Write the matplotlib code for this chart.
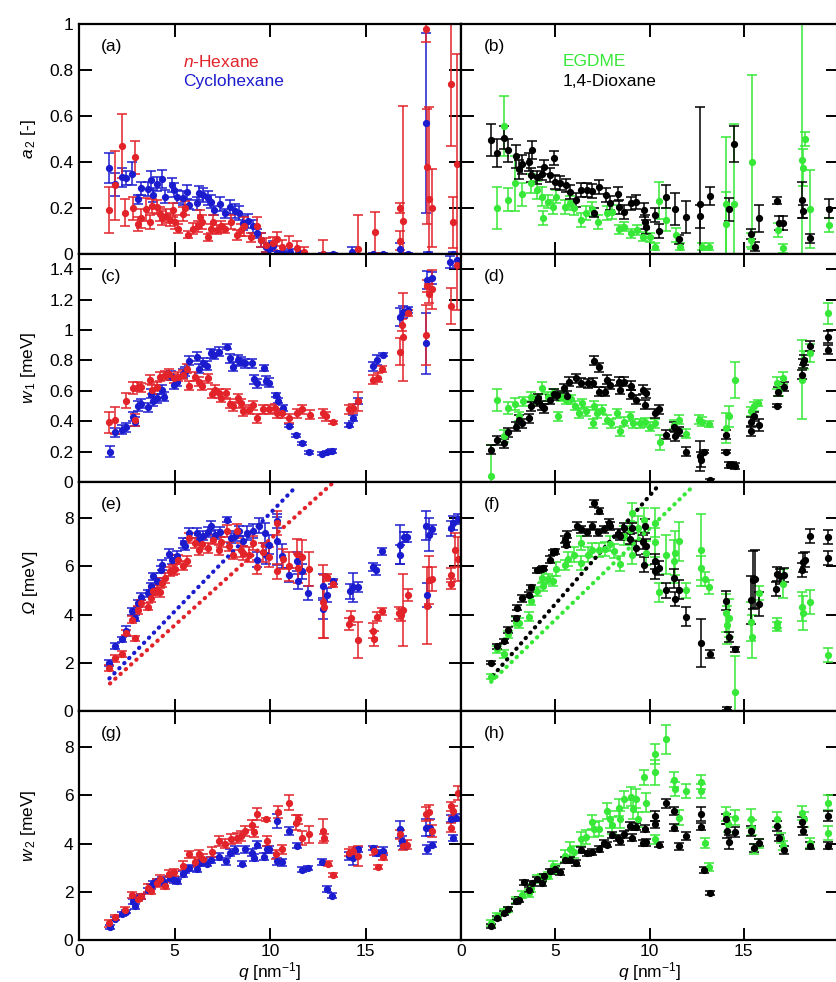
import matplotlib
matplotlib.use("Agg")
import matplotlib.pyplot as plt
import numpy as np

plt.rcParams['font.family'] = ['Liberation Sans', 'DejaVu Sans']
plt.rcParams['mathtext.fontset'] = 'custom'
plt.rcParams['mathtext.rm'] = 'Liberation Sans'
plt.rcParams['mathtext.it'] = 'Liberation Sans:italic'

RED = '#e2232a'
BLUE = '#1c1ccf'
GREEN = '#38e838'
BLACK = '#000000'

# ---------------- panel (a): a2, n-Hexane / Cyclohexane ----------------
q_a_hex = [1.59, 1.87, 2.25, 2.43, 2.85, 2.92, 3.09, 3.26, 3.5, 3.72,
           3.8, 4.07, 4.24, 4.33, 4.54, 4.76, 4.9, 5.0, 5.18, 5.46,
           5.57, 5.69, 5.99, 6.23, 6.34, 6.44, 6.75, 6.93, 7.03, 7.24,
           7.45, 7.66, 7.97, 8.29, 8.5, 8.64, 9.02, 9.3, 9.55, 9.8,
           10.14, 10.38, 10.63, 11.0, 11.4, 11.8, 12.8, 14.6, 15.5, 16.8,
           16.8, 16.96, 18.15, 18.2, 18.3, 18.5, 19.5, 19.6, 19.8]
a2_hex = [0.19, 0.30, 0.47, 0.18, 0.20, 0.42, 0.13, 0.155, 0.195, 0.14,
          0.21, 0.205, 0.175, 0.155, 0.165, 0.15, 0.19, 0.14, 0.11, 0.175,
          0.20, 0.083, 0.11, 0.12, 0.16, 0.14, 0.072, 0.11, 0.14, 0.105,
          0.12, 0.11, 0.14, 0.083, 0.105, 0.12, 0.072, 0.12, 0.06, 0.04,
          0.046, 0.064, 0.032, 0.04, 0.025, 0.01, 0.0, 0.02, 0.094, 0.2,
          0.058, 0.143, 0.98, 0.38, 0.24, 0.2, 0.74, 0.137, 0.39]
a2_hex_err = [0.10, 0.15, 0.14, 0.06, 0.05, 0.07, 0.03, 0.04, 0.05, 0.03,
              0.03, 0.03, 0.03, 0.03, 0.03, 0.03, 0.03, 0.03, 0.02, 0.03,
              0.03, 0.015, 0.025, 0.025, 0.03, 0.03, 0.015, 0.02, 0.03, 0.02,
              0.025, 0.02, 0.03, 0.02, 0.025, 0.04, 0.02, 0.04, 0.03, 0.03,
              0.03, 0.03, 0.03, 0.04, 0.03, 0.02, 0.06, 0.15, 0.09, 0.02,
              0.04, 0.5, 0.06, 0.25, 0.4, 0.17, 0.27, 0.11, 0.48]

q_a_cyc = [1.59, 1.87, 2.25, 2.46, 2.8, 3.09, 3.26, 3.6, 3.75, 3.9,
           4.07, 4.35, 4.49, 4.87, 4.97, 5.11, 5.46, 5.64, 5.74, 6.16,
           6.3, 6.51, 6.75, 6.93, 7.07, 7.38, 7.63, 7.9, 8.18, 8.36,
           8.6, 8.85, 9.13, 9.34, 9.55, 9.8, 9.97, 10.17, 10.38, 10.66,
           11.05, 11.57, 12.8, 13.3, 14.3, 15.4, 15.9, 16.8, 17.2, 18.17,
           18.25, 19.6]
a2_cyc = [0.372, 0.304, 0.333, 0.33, 0.348, 0.238, 0.285, 0.284, 0.32, 0.257,
          0.304, 0.325, 0.25, 0.3, 0.278, 0.25, 0.243, 0.27, 0.214, 0.22,
          0.264, 0.256, 0.243, 0.228, 0.19, 0.217, 0.177, 0.206, 0.186, 0.177,
          0.136, 0.145, 0.12, 0.09, 0.06, 0.03, 0.02, 0.035, 0.005, 0.005,
          0.01, 0.003, 0.0, 0.0, 0.01, 0.0, 0.0, 0.02, 0.0, 0.57,
          0.0, 0.0]
a2_cyc_err = [0.065, 0.05, 0.04, 0.03, 0.05, 0.02, 0.03, 0.03, 0.04, 0.03,
              0.03, 0.04, 0.03, 0.03, 0.03, 0.03, 0.03, 0.03, 0.02, 0.03,
              0.03, 0.03, 0.03, 0.03, 0.02, 0.03, 0.02, 0.03, 0.03, 0.03,
              0.03, 0.03, 0.03, 0.02, 0.03, 0.02, 0.02, 0.02, 0.01, 0.01,
              0.01, 0.005, 0.005, 0.005, 0.02, 0.005, 0.005, 0.03, 0.005, 0.39,
              0.01, 0.01]

# ---------------- panel (b): a2, EGDME / 1,4-Dioxane ----------------
q_b_egd = [1.89, 2.29, 2.47, 2.86, 3.25, 3.73, 4.05, 4.32, 4.37, 4.64,
           4.9, 5.02, 5.5, 5.76, 6.02, 6.37, 6.65, 6.93, 7.27, 7.73,
           8.0, 8.37, 8.63, 9.0, 9.32, 9.67, 10.0, 10.28, 10.5, 10.9,
           11.4, 11.6, 12.8, 13.14, 14.08, 14.08, 14.5, 15.43, 15.4, 16.8,
           17.1, 18.1, 18.15, 18.26, 18.5, 19.5]
a2_egd = [0.2, 0.556, 0.235, 0.307, 0.26, 0.307, 0.278, 0.25, 0.155, 0.228,
          0.206, 0.25, 0.206, 0.223, 0.2, 0.148, 0.18, 0.194, 0.14, 0.18,
          0.184, 0.107, 0.119, 0.09, 0.104, 0.075, 0.072, 0.032, 0.232, 0.148,
          0.083, 0.032, 0.032, 0.032, 0.217, 0.13, 0.217, 0.4, 0.06, 0.104,
          0.025, 0.41, 0.375, 0.5, 0.194, 0.125]
a2_egd_err = [0.09, 0.13, 0.05, 0.12, 0.05, 0.04, 0.04, 0.04, 0.03, 0.03,
              0.03, 0.03, 0.03, 0.03, 0.03, 0.03, 0.03, 0.03, 0.03, 0.03,
              0.03, 0.02, 0.02, 0.02, 0.02, 0.02, 0.02, 0.015, 0.08, 0.05,
              0.03, 0.015, 0.015, 0.015, 0.29, 0.14, 0.35, 0.38, 0.03, 0.03,
              0.02, 0.6, 0.08, 0.03, 0.17, 0.03]

q_b_dio = [1.6, 1.89, 2.27, 2.47, 2.93, 3.07, 3.25, 3.6, 3.77, 3.73,
           4.05, 4.29, 4.39, 4.72, 4.95, 4.98, 5.24, 5.56, 5.76, 6.11,
           6.34, 6.68, 6.93, 7.03, 7.33, 7.67, 7.9, 8.32, 8.37, 8.66,
           9.0, 9.29, 9.7, 9.76, 9.84, 10.28, 10.5, 10.9, 11.34, 11.55,
           11.93, 12.7, 12.7, 13.2, 14.2, 14.5, 15.4, 15.6, 15.83, 16.75,
           16.87, 17.1, 18.1, 18.15, 18.5, 19.5]
a2_dio = [0.496, 0.44, 0.506, 0.452, 0.426, 0.368, 0.39, 0.4, 0.452, 0.343,
          0.333, 0.35, 0.377, 0.343, 0.417, 0.314, 0.307, 0.298, 0.27, 0.235,
          0.278, 0.28, 0.274, 0.18, 0.293, 0.257, 0.223, 0.26, 0.203, 0.184,
          0.22, 0.226, 0.19, 0.14, 0.119, 0.17, 0.101, 0.25, 0.194, 0.064,
          0.16, 0.217, 0.165, 0.252, 0.194, 0.478, 0.087, 0.032, 0.155, 0.232,
          0.136, 0.136, 0.235, 0.185, 0.068, 0.197]
a2_dio_err = [0.07, 0.06, 0.05, 0.05, 0.05, 0.04, 0.04, 0.04, 0.04, 0.03,
              0.03, 0.03, 0.03, 0.03, 0.03, 0.03, 0.03, 0.03, 0.03, 0.03,
              0.03, 0.03, 0.03, 0.02, 0.03, 0.03, 0.03, 0.03, 0.03, 0.03,
              0.03, 0.03, 0.03, 0.03, 0.03, 0.03, 0.03, 0.05, 0.07, 0.02,
              0.07, 0.42, 0.05, 0.04, 0.05, 0.08, 0.02, 0.02, 0.06, 0.015,
              0.03, 0.03, 0.08, 0.03, 0.02, 0.04]

# ---------------- panel (c): w1, n-Hexane / Cyclohexane ----------------
q_c_hex = [1.59, 1.88, 2.46, 2.81, 2.92, 3.09, 3.26, 3.72, 3.8, 4.07,
           4.24, 4.49, 4.73, 4.97, 5.18, 5.46, 5.64, 5.78, 6.06, 6.27,
           6.44, 6.75, 6.96, 7.14, 7.31, 7.42, 7.7, 7.9, 8.08, 8.32,
           8.46, 8.6, 8.88, 9.09, 9.3, 9.65, 9.93, 10.28, 10.38, 10.63,
           11.0, 11.4, 11.66, 12.1, 12.76, 12.93, 13.3, 14.15, 14.36, 14.6,
           15.4, 15.65, 15.86, 16.8, 16.9, 16.96, 17.2, 18.15, 18.2, 18.3,
           18.5, 19.5, 19.8]
w1_hex = [0.392, 0.405, 0.536, 0.617, 0.41, 0.628, 0.624, 0.672, 0.606, 0.628,
          0.694, 0.702, 0.711, 0.683, 0.694, 0.705, 0.746, 0.632, 0.694, 0.661,
          0.632, 0.683, 0.58, 0.606, 0.584, 0.554, 0.584, 0.514, 0.497, 0.551,
          0.519, 0.464, 0.475, 0.505, 0.42, 0.479, 0.479, 0.486, 0.453, 0.453,
          0.42, 0.453, 0.479, 0.444, 0.453, 0.431, 0.392, 0.479, 0.484, 0.53,
          0.672, 0.687, 0.742, 0.858, 1.033, 0.956, 1.114, 0.967, 1.289, 1.24,
          1.267, 1.157, 1.43]
w1_hex_err = [0.07, 0.09, 0.05, 0.04, 0.04, 0.03, 0.03, 0.03, 0.03, 0.03,
              0.03, 0.03, 0.03, 0.03, 0.03, 0.03, 0.03, 0.03, 0.03, 0.03,
              0.03, 0.03, 0.03, 0.03, 0.03, 0.03, 0.03, 0.03, 0.03, 0.03,
              0.03, 0.03, 0.03, 0.03, 0.03, 0.03, 0.03, 0.03, 0.03, 0.03,
              0.03, 0.03, 0.03, 0.03, 0.03, 0.03, 0.01, 0.03, 0.03, 0.06,
              0.03, 0.03, 0.02, 0.09, 0.04, 0.29, 0.02, 0.2, 0.04, 0.06,
              0.13, 0.12, 0.3]

q_c_cyc = [1.62, 1.87, 2.25, 2.46, 2.85, 2.92, 3.09, 3.26, 3.6, 3.75,
           3.9, 4.07, 4.35, 4.45, 4.8, 4.97, 5.11, 5.46, 5.57, 5.74,
           6.16, 6.3, 6.51, 6.72, 6.93, 7.07, 7.31, 7.73, 7.9, 8.08,
           8.32, 8.46, 8.71, 9.06, 9.16, 9.34, 9.69, 9.8, 9.97, 10.31,
           10.42, 10.66, 11.01, 11.36, 11.67, 12.06, 12.72, 12.97, 13.25, 14.15,
           14.33, 14.6, 15.37, 15.6, 15.9, 16.8, 16.98, 17.2, 18.17, 18.2,
           18.48, 19.4, 19.8]
w1_cyc = [0.2, 0.326, 0.343, 0.36, 0.43, 0.398, 0.5, 0.514, 0.492, 0.58,
          0.53, 0.55, 0.606, 0.562, 0.698, 0.639, 0.661, 0.711, 0.726, 0.799,
          0.825, 0.746, 0.786, 0.764, 0.847, 0.836, 0.858, 0.89, 0.814, 0.759,
          0.803, 0.792, 0.781, 0.781, 0.676, 0.65, 0.748, 0.667, 0.654, 0.571,
          0.536, 0.484, 0.37, 0.309, 0.256, 0.195, 0.186, 0.195, 0.204, 0.376,
          0.42, 0.53, 0.76, 0.803, 0.836, 1.088, 1.12, 1.13, 0.912, 1.33,
          1.34, 1.45, 1.46]
w1_cyc_err = [0.035, 0.03, 0.03, 0.03, 0.03, 0.03, 0.03, 0.03, 0.03, 0.03,
              0.03, 0.03, 0.03, 0.03, 0.03, 0.03, 0.03, 0.03, 0.03, 0.03,
              0.03, 0.03, 0.03, 0.03, 0.03, 0.03, 0.03, 0.015, 0.03, 0.03,
              0.03, 0.03, 0.03, 0.03, 0.03, 0.03, 0.02, 0.03, 0.03, 0.015,
              0.015, 0.02, 0.01, 0.01, 0.01, 0.01, 0.01, 0.01, 0.01, 0.015,
              0.02, 0.02, 0.03, 0.03, 0.01, 0.06, 0.04, 0.02, 0.2, 0.06,
              0.04, 0.04, 0.04]

# ---------------- panel (d): w1, EGDME / 1,4-Dioxane ----------------
q_d_egd = [1.6, 1.89, 2.29, 2.47, 2.86, 3.07, 3.28, 3.73, 4.05, 4.32,
           4.64, 4.9, 5.16, 5.33, 5.59, 5.82, 6.06, 6.28, 6.41, 6.63,
           6.98, 7.03, 7.24, 7.5, 7.76, 7.97, 8.28, 8.46, 8.63, 8.98,
           9.15, 9.5, 9.76, 10.02, 10.28, 10.54, 11.32, 11.55, 11.93, 12.62,
           12.8, 13.18, 14.04, 14.22, 14.53, 15.4, 15.54, 15.78, 16.75, 16.87,
           17.1, 18.1, 18.18, 18.5, 19.48]
w1_egd = [0.042, 0.54, 0.3, 0.486, 0.512, 0.431, 0.53, 0.562, 0.545, 0.617,
          0.562, 0.584, 0.431, 0.562, 0.54, 0.545, 0.501, 0.453, 0.519, 0.464,
          0.387, 0.501, 0.453, 0.475, 0.409, 0.387, 0.453, 0.333, 0.398, 0.431,
          0.387, 0.387, 0.392, 0.365, 0.387, 0.26, 0.376, 0.409, 0.317, 0.409,
          0.398, 0.383, 0.354, 0.431, 0.672, 0.464, 0.497, 0.519, 0.65, 0.606,
          0.683, 0.672, 0.803, 0.847, 1.11]
w1_egd_err = [0.2, 0.07, 0.04, 0.04, 0.04, 0.03, 0.03, 0.03, 0.03, 0.04,
              0.03, 0.03, 0.03, 0.03, 0.03, 0.03, 0.03, 0.03, 0.03, 0.03,
              0.03, 0.03, 0.03, 0.03, 0.03, 0.03, 0.03, 0.03, 0.03, 0.03,
              0.03, 0.03, 0.03, 0.03, 0.03, 0.05, 0.03, 0.03, 0.03, 0.03,
              0.03, 0.02, 0.1, 0.07, 0.12, 0.03, 0.03, 0.02, 0.04, 0.04,
              0.04, 0.26, 0.06, 0.06, 0.07]

q_d_dio = [1.6, 1.89, 2.27, 2.47, 2.93, 3.07, 3.25, 3.6, 3.73, 4.05,
           4.11, 4.29, 4.39, 4.74, 4.95, 5.07, 5.47, 5.64, 5.71, 6.11,
           6.34, 6.72, 6.98, 7.03, 7.34, 7.33, 7.64, 7.76, 7.93, 8.37,
           8.42, 8.66, 9.01, 9.01, 9.29, 9.67, 9.76, 9.84, 10.28, 10.5,
           10.9, 11.32, 11.37, 11.55, 11.93, 12.7, 12.72, 12.88, 13.2, 14.04,
           14.04, 14.22, 14.4, 14.53, 15.36, 15.4, 15.57, 15.83, 16.75, 16.82,
           17.14, 18.1, 18.15, 18.2, 18.5, 19.48, 19.48]
w1_dio = [0.212, 0.274, 0.256, 0.326, 0.365, 0.409, 0.387, 0.42, 0.497, 0.53,
          0.551, 0.501, 0.486, 0.54, 0.58, 0.571, 0.617, 0.567, 0.661, 0.683,
          0.654, 0.65, 0.654, 0.799, 0.755, 0.595, 0.595, 0.672, 0.639, 0.661,
          0.606, 0.661, 0.632, 0.573, 0.54, 0.606, 0.508, 0.584, 0.453, 0.479,
          0.311, 0.365, 0.3, 0.333, 0.2, 0.173, 0.147, 0.2, 0.011, 0.311,
          0.2, 0.114, 0.114, 0.107, 0.398, 0.333, 0.431, 0.376, 0.501, 0.595,
          0.628, 0.705, 0.781, 0.803, 0.895, 0.956, 0.87]
w1_dio_err = [0.03, 0.03, 0.03, 0.03, 0.03, 0.03, 0.03, 0.03, 0.03, 0.03,
              0.03, 0.03, 0.03, 0.03, 0.03, 0.03, 0.03, 0.03, 0.03, 0.03,
              0.03, 0.03, 0.03, 0.03, 0.03, 0.03, 0.03, 0.03, 0.03, 0.03,
              0.03, 0.03, 0.03, 0.03, 0.03, 0.03, 0.03, 0.03, 0.03, 0.03,
              0.03, 0.03, 0.03, 0.03, 0.03, 0.1, 0.05, 0.01, 0.01, 0.03,
              0.01, 0.02, 0.02, 0.02, 0.03, 0.03, 0.03, 0.04, 0.01, 0.03,
              0.03, 0.03, 0.03, 0.03, 0.03, 0.04, 0.03]

# ---------------- panel (e): Omega, n-Hexane / Cyclohexane ----------------
q_e_cyc = [1.59, 1.87, 2.25, 2.46, 2.8, 2.92, 3.09, 3.26, 3.6, 3.75,
           3.9, 4.07, 4.31, 4.35, 4.73, 4.87, 5.11, 5.46, 5.57, 5.74,
           6.16, 6.3, 6.51, 6.75, 6.93, 7.1, 7.38, 7.73, 7.94, 8.18,
           8.36, 8.6, 8.81, 9.13, 9.3, 9.44, 9.72, 9.8, 9.97, 10.35,
           10.38, 10.63, 11.0, 11.4, 11.45, 11.66, 12.0, 12.79, 12.79, 13.0,
           13.3, 14.19, 14.33, 14.6, 15.37, 15.55, 15.86, 16.8, 16.8, 17.0,
           17.15, 18.17, 18.3, 18.2, 18.5, 19.5, 19.6, 19.86]
om_cyc = [2.0, 2.69, 2.97, 3.33, 4.13, 3.85, 4.47, 4.75, 4.89, 5.17,
          5.58, 5.38, 5.86, 6.07, 6.53, 6.28, 6.44, 6.97, 6.86, 7.39,
          7.39, 7.11, 7.28, 7.42, 7.67, 7.32, 7.42, 7.94, 7.18, 7.25,
          7.46, 7.04, 7.39, 7.46, 6.28, 7.69, 7.39, 6.49, 6.9, 7.88,
          7.04, 6.42, 5.65, 6.21, 5.38, 5.79, 4.89, 5.17, 4.22, 4.82,
          5.38, 4.96, 5.14, 5.14, 5.97, 5.86, 6.63, 6.9, 6.49, 7.22,
          7.22, 7.69, 7.32, 4.82, 7.53, 7.58, 7.8, 7.97]
om_cyc_err = [0.12, 0.12, 0.1, 0.2, 0.15, 0.12, 0.15, 0.15, 0.15, 0.15,
              0.15, 0.15, 0.15, 0.2, 0.2, 0.2, 0.2, 0.2, 0.2, 0.2,
              0.2, 0.2, 0.2, 0.2, 0.2, 0.2, 0.2, 0.1, 0.2, 0.2,
              0.2, 0.2, 0.3, 0.3, 0.3, 0.3, 0.4, 0.4, 0.4, 0.3,
              1.0, 0.5, 0.3, 0.4, 0.3, 0.3, 0.3, 0.5, 0.4, 0.3,
              0.1, 0.3, 0.6, 0.2, 0.15, 0.2, 0.15, 0.8, 0.4, 0.2,
              0.2, 0.6, 0.7, 0.5, 0.2, 0.3, 0.3, 0.2]

q_e_hex = [1.59, 1.88, 2.25, 2.46, 2.92, 2.8, 3.09, 3.26, 3.6, 3.75,
           3.9, 4.07, 4.24, 4.35, 4.49, 4.76, 4.9, 5.0, 5.18, 5.46,
           5.64, 5.74, 6.06, 6.27, 6.44, 6.75, 7.03, 7.31, 7.42, 7.73,
           7.87, 8.05, 8.29, 8.46, 8.6, 8.88, 9.13, 9.3, 9.65, 9.97,
           10.38, 10.38, 10.66, 11.0, 11.4, 11.48, 11.66, 12.02, 12.79, 12.83,
           13.0, 13.3, 14.15, 14.22, 14.6, 15.4, 15.44, 15.62, 15.86, 16.73,
           16.84, 16.98, 17.2, 18.2, 18.3, 18.5, 19.5, 19.5, 19.67, 19.86]
om_hex = [1.8, 2.18, 2.36, 3.25, 3.01, 3.78, 4.19, 4.47, 4.33, 4.68,
          4.96, 5.03, 4.92, 5.33, 5.51, 5.79, 5.86, 5.89, 6.28, 6.03,
          6.21, 7.18, 6.97, 6.67, 6.94, 6.76, 7.11, 6.69, 7.0, 7.46,
          6.83, 6.49, 7.46, 6.69, 6.56, 6.49, 6.97, 5.97, 6.58, 6.39,
          7.81, 5.79, 6.31, 6.0, 6.53, 5.93, 6.39, 5.89, 4.54, 4.33,
          5.54, 5.28, 3.61, 3.85, 2.94, 3.33, 3.0, 3.92, 4.13, 4.06,
          3.99, 4.19, 4.82, 4.36, 5.44, 5.47, 5.65, 5.28, 6.69, 6.31]
om_hex_err = [0.12, 0.15, 0.12, 0.1, 0.1, 0.15, 0.15, 0.15, 0.15, 0.15,
              0.15, 0.2, 0.2, 0.2, 0.2, 0.2, 0.2, 0.2, 0.2, 0.2,
              0.2, 0.2, 0.2, 0.2, 0.2, 0.2, 0.2, 0.2, 0.2, 0.25,
              0.2, 0.2, 0.3, 0.3, 0.3, 0.3, 0.3, 0.3, 0.4, 0.4,
              0.5, 0.3, 0.4, 0.6, 0.6, 0.6, 0.7, 0.7, 1.5, 1.3,
              0.15, 0.15, 0.25, 0.3, 0.75, 0.3, 0.3, 0.2, 0.15, 0.25,
              0.25, 1.5, 0.25, 1.6, 1.0, 0.5, 0.3, 0.2, 0.7, 0.9]

# linear (sound velocity) reference lines: end points
q_e_line_cyc = [1.59, 11.22]
om_e_line_cyc = [1.35, 9.19]
q_e_line_hex = [1.62, 13.3]
om_e_line_hex = [1.14, 9.47]

# ---------------- panel (f): Omega, EGDME / 1,4-Dioxane ----------------
q_f_dio = [1.6, 1.89, 2.27, 2.47, 2.93, 2.99, 3.25, 3.6, 3.73, 4.05,
           4.29, 4.37, 4.72, 4.9, 4.98, 5.5, 5.56, 5.64, 6.16, 6.34,
           6.68, 6.93, 7.07, 7.34, 7.29, 7.59, 7.85, 7.9, 8.32, 8.42,
           8.63, 8.98, 9.06, 9.29, 9.64, 9.7, 9.76, 9.84, 10.28, 10.28,
           10.5, 10.9, 11.32, 11.37, 11.55, 11.93, 12.71, 13.21, 14.04, 14.1,
           14.22, 14.53, 15.36, 15.49, 15.61, 15.83, 16.7, 16.79, 16.93, 17.14,
           18.09, 18.14, 18.26, 18.49, 19.48, 19.48]
om_dio = [2.0, 2.69, 2.9, 3.36, 3.85, 4.29, 4.68, 4.82, 5.13, 5.83,
          5.89, 5.93, 6.28, 6.58, 6.63, 7.11, 6.9, 7.32, 7.67, 7.53,
          7.42, 7.67, 8.61, 8.29, 7.42, 7.53, 7.81, 7.67, 7.36, 7.25,
          7.6, 7.14, 7.6, 6.76, 7.0, 6.07, 7.67, 6.83, 6.21, 5.79,
          5.93, 5.0, 5.51, 4.64, 5.03, 3.92, 2.83, 2.36, 4.58, 0.1,
          3.06, 2.56, 4.61, 5.44, 5.47, 4.44, 5.06, 5.69, 5.58, 5.65,
          5.86, 6.17, 6.28, 7.25, 7.22, 6.35]
om_dio_err = [0.06, 0.1, 0.08, 0.12, 0.1, 0.1, 0.15, 0.1, 0.1, 0.12,
              0.1, 0.1, 0.15, 0.1, 0.1, 0.15, 0.1, 0.15, 0.15, 0.15,
              0.15, 0.15, 0.15, 0.12, 0.15, 0.15, 0.15, 0.15, 0.2, 0.15,
              0.2, 0.2, 0.2, 0.3, 0.3, 0.3, 0.3, 0.3, 0.3, 0.3,
              0.3, 0.3, 0.4, 0.3, 0.4, 0.4, 1.0, 0.15, 0.4, 0.05,
              0.2, 0.1, 1.0, 1.2, 1.2, 0.5, 0.3, 0.3, 0.3, 0.3,
              0.3, 0.4, 0.3, 0.3, 0.3, 0.3]

q_f_egd = [1.6, 1.89, 2.29, 2.47, 2.93, 3.07, 3.6, 3.73, 4.05, 4.32,
           4.37, 4.64, 4.9, 5.02, 5.5, 5.68, 6.02, 6.34, 6.37, 6.72,
           6.93, 7.33, 7.62, 7.93, 8.11, 8.45, 8.63, 8.98, 9.05, 9.06,
           9.41, 9.72, 9.81, 10.28, 10.29, 10.5, 10.88, 11.32, 11.37, 11.58,
           11.93, 12.71, 12.71, 12.93, 13.18, 14.04, 14.1, 14.22, 14.53, 15.4,
           15.43, 15.83, 16.75, 16.79, 17.1, 18.09, 18.14, 18.49, 19.48]
om_egd = [1.42, 2.56, 2.36, 3.18, 3.71, 3.64, 3.92, 4.58, 4.96, 5.51,
          5.17, 5.47, 5.38, 5.89, 6.07, 6.31, 6.49, 6.14, 6.97, 6.49,
          6.67, 6.69, 6.72, 6.94, 6.63, 6.11, 7.28, 7.5, 8.22, 6.49,
          7.6, 7.94, 6.56, 7.81, 7.0, 4.92, 6.49, 6.21, 6.56, 7.04,
          5.0, 6.69, 5.93, 5.47, 5.14, 4.06, 3.57, 3.85, 0.79, 3.71,
          3.08, 4.89, 3.5, 3.64, 5.28, 4.33, 4.08, 4.54, 2.32]
om_egd_err = [0.1, 0.15, 0.15, 0.15, 0.2, 0.2, 0.2, 0.2, 0.2, 0.2,
              0.2, 0.2, 0.2, 0.3, 0.2, 0.3, 0.3, 0.3, 0.3, 0.3,
              0.3, 0.3, 0.3, 0.3, 0.3, 0.3, 0.4, 0.4, 0.4, 0.4,
              0.5, 0.5, 0.5, 0.6, 0.6, 0.4, 0.8, 0.9, 0.9, 0.8,
              0.3, 1.5, 0.5, 0.3, 0.3, 0.8, 0.8, 0.8, 1.5, 0.8,
              0.9, 0.3, 0.2, 0.2, 0.6, 0.6, 0.7, 0.5, 0.3]

q_f_line_dio = [1.7, 10.45]
om_f_line_dio = [1.47, 9.33]
q_f_line_egd = [1.6, 12.36]
om_f_line_egd = [1.21, 9.36]

# ---------------- panel (g): w2, n-Hexane / Cyclohexane ----------------
q_g_hex = [1.59, 1.88, 2.42, 2.8, 3.09, 3.26, 3.6, 3.75, 4.07, 4.24,
           4.49, 4.73, 4.97, 5.46, 5.74, 6.06, 6.27, 6.51, 6.96, 7.31,
           7.63, 7.97, 8.29, 8.46, 8.71, 9.06, 9.16, 9.34, 9.79, 9.83,
           10.31, 10.42, 10.63, 11.01, 11.36, 11.47, 11.67, 12.02, 12.79, 12.83,
           13.05, 13.3, 14.15, 14.36, 14.6, 15.44, 15.65, 15.93, 16.8, 16.98,
           17.15, 18.17, 18.3, 18.5, 19.5, 19.56, 19.5, 19.86]
w2_hex = [0.7, 0.95, 1.25, 1.88, 1.7, 1.81, 2.16, 2.02, 2.36, 2.53,
          2.25, 2.75, 2.81, 3.09, 3.55, 3.23, 3.55, 3.37, 3.64, 4.1,
          4.0, 4.2, 4.24, 4.31, 4.52, 4.76, 4.48, 5.22, 5.0, 4.1,
          3.55, 5.31, 3.76, 5.7, 4.87, 5.0, 4.24, 4.38, 4.52, 4.24,
          3.17, 2.71, 3.62, 3.69, 3.48, 3.69, 3.03, 3.45, 4.38, 3.92,
          3.96, 5.22, 5.29, 4.52, 5.54, 5.35, 4.66, 6.09]
w2_hex_err = [0.15, 0.1, 0.1, 0.12, 0.1, 0.1, 0.15, 0.12, 0.15, 0.15,
              0.15, 0.15, 0.15, 0.2, 0.15, 0.2, 0.2, 0.2, 0.2, 0.2,
              0.2, 0.2, 0.2, 0.2, 0.2, 0.2, 0.2, 0.25, 0.05, 0.2,
              0.2, 0.25, 0.2, 0.3, 0.3, 0.2, 0.3, 0.35, 0.5, 0.15,
              0.1, 0.08, 0.15, 0.15, 0.4, 0.15, 0.08, 0.15, 0.2, 0.2,
              0.2, 0.3, 0.3, 0.25, 0.2, 0.2, 0.2, 0.3]

q_g_cyc = [1.62, 1.87, 2.25, 2.46, 2.85, 2.92, 3.09, 3.26, 3.6, 3.75,
           3.9, 4.07, 4.35, 4.45, 4.76, 4.97, 5.11, 5.46, 5.57, 5.74,
           6.16, 6.3, 6.51, 6.72, 6.93, 7.31, 7.7, 7.9, 8.18, 8.53,
           8.71, 9.06, 9.16, 9.3, 9.69, 9.83, 9.97, 10.35, 10.35, 10.63,
           11.01, 11.43, 11.67, 12.0, 12.72, 12.97, 13.25, 14.15, 14.33, 14.6,
           15.37, 15.58, 15.9, 16.8, 16.89, 17.0, 18.17, 18.2, 18.38, 18.5,
           19.5, 19.56, 19.76]
w2_cyc = [0.53, 0.89, 1.08, 1.18, 1.6, 1.39, 1.74, 1.81, 2.06, 2.23,
          2.36, 2.43, 2.5, 2.36, 2.57, 2.5, 2.43, 2.75, 2.92, 2.99,
          2.95, 3.2, 3.23, 3.17, 3.31, 3.45, 3.27, 3.62, 3.73, 3.17,
          3.76, 3.62, 3.41, 3.96, 3.45, 3.76, 3.76, 4.94, 3.27, 3.23,
          4.52, 3.92, 2.92, 2.99, 3.23, 2.11, 1.84, 3.48, 3.41, 3.76,
          3.82, 3.62, 3.69, 4.59, 4.1, 3.89, 4.66, 3.76, 4.66, 3.96,
          5.03, 4.24, 5.08]
w2_cyc_err = [0.08, 0.08, 0.08, 0.08, 0.1, 0.1, 0.1, 0.1, 0.1, 0.1,
              0.1, 0.1, 0.1, 0.1, 0.1, 0.12, 0.12, 0.12, 0.12, 0.12,
              0.12, 0.12, 0.12, 0.12, 0.12, 0.15, 0.15, 0.15, 0.15, 0.12,
              0.15, 0.15, 0.15, 0.15, 0.15, 0.15, 0.15, 0.3, 0.15, 0.15,
              0.15, 0.12, 0.1, 0.1, 0.12, 0.12, 0.1, 0.15, 0.3, 0.1,
              0.1, 0.12, 0.15, 0.35, 0.2, 0.1, 0.35, 0.2, 0.35, 0.1,
              0.15, 0.12, 0.15]

# ---------------- panel (h): w2, EGDME / 1,4-Dioxane ----------------
q_h_egd = [1.6, 1.89, 2.29, 2.47, 2.93, 3.25, 3.6, 3.73, 4.05, 4.32,
           4.64, 4.9, 5.02, 5.5, 5.76, 6.02, 6.34, 6.65, 6.93, 7.07,
           7.33, 7.73, 7.9, 8.0, 8.37, 8.46, 8.66, 9.01, 9.15, 9.29,
           9.41, 9.72, 9.81, 10.28, 10.29, 10.29, 10.88, 11.32, 11.37, 11.58,
           11.93, 12.71, 12.71, 12.93, 13.18, 14.04, 14.18, 14.53, 15.4, 15.43,
           15.54, 15.83, 16.75, 16.96, 17.1, 18.09, 18.18, 18.49, 19.48, 19.48]
w2_egd = [0.7, 1.0, 1.18, 1.25, 1.67, 1.88, 1.95, 2.16, 2.53, 2.57,
          2.67, 3.06, 2.95, 3.48, 3.78, 3.64, 4.2, 4.28, 4.9, 4.59,
          4.62, 5.35, 5.0, 4.76, 5.49, 5.0, 5.84, 5.95, 5.42, 5.87,
          5.0, 6.75, 5.7, 7.72, 6.95, 4.17, 8.32, 6.65, 6.26, 5.08,
          6.19, 6.56, 6.19, 4.03, 3.03, 5.22, 4.8, 5.08, 5.03, 4.66,
          3.78, 4.0, 5.0, 4.24, 3.92, 5.26, 5.0, 4.03, 5.7, 4.45]
w2_egd_err = [0.12, 0.1, 0.1, 0.1, 0.12, 0.15, 0.15, 0.15, 0.15, 0.15,
              0.15, 0.2, 0.2, 0.25, 0.3, 0.25, 0.3, 0.3, 0.3, 0.3,
              0.3, 0.35, 0.35, 0.35, 0.35, 0.35, 0.35, 0.4, 0.4, 0.4,
              0.3, 0.3, 0.4, 0.4, 0.5, 0.2, 0.6, 0.3, 0.3, 0.3,
              0.3, 0.3, 0.3, 0.2, 0.15, 0.3, 0.3, 0.3, 0.4, 0.3,
              0.2, 0.2, 0.3, 0.2, 0.2, 0.3, 0.3, 0.2, 0.3, 0.3]

q_h_dio = [1.6, 1.89, 2.27, 2.47, 2.93, 3.07, 3.33, 3.6, 3.77, 4.05,
           4.29, 4.39, 4.74, 4.98, 5.24, 5.5, 5.76, 6.11, 6.34, 6.68,
           6.93, 7.33, 7.59, 7.76, 8.02, 8.32, 8.42, 8.66, 8.98, 9.06,
           9.29, 9.67, 9.76, 9.84, 10.28, 10.28, 10.5, 10.9, 11.32, 11.32,
           11.58, 11.93, 12.71, 12.71, 12.88, 13.21, 14.04, 14.1, 14.22, 14.53,
           15.36, 15.54, 15.83, 16.75, 16.87, 17.14, 18.09, 18.14, 18.49, 19.48,
           19.48]
w2_dio = [0.58, 0.9, 1.11, 1.28, 1.6, 1.67, 2.39, 2.09, 2.36, 2.53,
          2.36, 2.64, 2.85, 2.95, 2.81, 3.31, 3.31, 3.2, 3.73, 3.59,
          3.64, 3.76, 4.03, 3.96, 4.34, 4.24, 4.1, 4.38, 4.73, 4.24,
          4.7, 4.03, 4.62, 4.06, 5.15, 4.8, 3.96, 5.67, 5.35, 4.66,
          3.89, 4.31, 5.22, 4.7, 2.89, 1.95, 5.03, 4.52, 4.06, 4.48,
          4.52, 3.82, 4.03, 4.73, 4.24, 3.73, 4.9, 4.52, 3.92, 5.15,
          3.92]
w2_dio_err = [0.1, 0.08, 0.08, 0.08, 0.1, 0.1, 0.1, 0.1, 0.1, 0.1,
              0.1, 0.1, 0.1, 0.12, 0.12, 0.12, 0.12, 0.12, 0.12, 0.12,
              0.12, 0.12, 0.12, 0.12, 0.12, 0.12, 0.15, 0.15, 0.15, 0.15,
              0.15, 0.12, 0.15, 0.15, 0.2, 0.15, 0.12, 0.2, 0.15, 0.15,
              0.15, 0.15, 0.3, 0.15, 0.12, 0.08, 0.2, 0.3, 0.3, 0.2,
              0.2, 0.15, 0.15, 0.2, 0.12, 0.15, 0.2, 0.15, 0.15, 0.2,
              0.15]

# ---------------- figure layout ----------------
W, H = 837, 982
fig = plt.figure(figsize=(W / 100, H / 100), dpi=100)

rows = [(24, 254), (254, 482), (482, 711), (711, 940)]
cols = [(79, 461), (461, 838)]


def make_ax(c, r):
    x0, x1 = cols[c]
    y0, y1 = rows[r]
    return fig.add_axes([x0 / W, 1 - y1 / H, (x1 - x0) / W, (y1 - y0) / H])


axes = [[make_ax(c, r) for c in range(2)] for r in range(4)]

FS = 12.5
ylims = [(0, 1.0), (0, 1.5), (0, 9.5), (0, 9.5)]
yticks = [[0, 0.2, 0.4, 0.6, 0.8, 1.0],
          [0, 0.2, 0.4, 0.6, 0.8, 1.0, 1.2, 1.4],
          [0, 2, 4, 6, 8],
          [0, 2, 4, 6, 8]]
yticklabels = [['0', '0.2', '0.4', '0.6', '0.8', '1'],
               ['0', '0.2', '0.4', '0.6', '0.8', '1', '1.2', '1.4'],
               ['0', '2', '4', '6', '8'],
               ['0', '2', '4', '6', '8']]
ylabels = [r'$a_{\,2}$ [-]', r'$w_{\,1}$ [meV]', None, r'$w_{\,2}$ [meV]']
panel_tags = [['(a)', '(b)'], ['(c)', '(d)'], ['(e)', '(f)'], ['(g)', '(h)']]
xticks = [0, 5, 10, 15, 20]
xticklabels = ['0', '5', '10', '15', '']
YLAB_X = -0.108

for r in range(4):
    for c in range(2):
        ax = axes[r][c]
        ax.set_xlim(0, 20)
        ax.set_ylim(*ylims[r])
        ax.set_xticks(xticks)
        ax.set_yticks(yticks[r])
        ax.tick_params(direction='in', length=9, width=1.4, top=True, right=True,
                       labelsize=FS, pad=4)
        ax.tick_params(axis='x', pad=3)
        for s in ax.spines.values():
            s.set_linewidth(1.6)
        if r == 3:
            ax.set_xticklabels(xticklabels)
            ax.set_xlabel(r'$q$ [nm$^{-1}$]', fontsize=FS)
            ax.xaxis.set_label_coords(0.5, -0.086)
        else:
            ax.set_xticklabels([])
        if c == 0:
            ax.set_yticklabels(yticklabels[r])
            if ylabels[r] is not None:
                ax.text(YLAB_X, 0.5, ylabels[r], rotation=90, fontsize=FS,
                        transform=ax.transAxes, ha='right', va='center')
        else:
            ax.set_yticklabels([])
        ax.text(0.058 if c == 0 else 0.062, 0.9, panel_tags[r][c], transform=ax.transAxes,
                fontsize=FS, ha='left', va='center')

# Omega label: italic Omega + upright unit
axE = axes[2][0]
axE.text(YLAB_X, 0.48, '\u03A9', rotation=90, fontsize=FS, style='italic',
         transform=axE.transAxes, ha='right', va='top')
axE.text(YLAB_X, 0.48, ' [meV]', rotation=90, fontsize=FS,
         transform=axE.transAxes, ha='right', va='bottom')

eb = dict(fmt='o', ms=4.2, elinewidth=1.1, capsize=3.8, capthick=1.1, lw=0)


def plot_series(ax, q, v, e, color):
    ax.errorbar(q, v, yerr=e, color=color, ecolor=color, mfc=color, mec=color, **eb)


dotted = dict(lw=3.0, linestyle=(0, (0.1, 1.6)), dash_capstyle='round')

# (a)
plot_series(axes[0][0], q_a_cyc, a2_cyc, a2_cyc_err, BLUE)
plot_series(axes[0][0], q_a_hex, a2_hex, a2_hex_err, RED)
# (b)
plot_series(axes[0][1], q_b_egd, a2_egd, a2_egd_err, GREEN)
plot_series(axes[0][1], q_b_dio, a2_dio, a2_dio_err, BLACK)
# (c)
plot_series(axes[1][0], q_c_cyc, w1_cyc, w1_cyc_err, BLUE)
plot_series(axes[1][0], q_c_hex, w1_hex, w1_hex_err, RED)
# (d)
plot_series(axes[1][1], q_d_egd, w1_egd, w1_egd_err, GREEN)
plot_series(axes[1][1], q_d_dio, w1_dio, w1_dio_err, BLACK)
# (e)
plot_series(axes[2][0], q_e_cyc, om_cyc, om_cyc_err, BLUE)
plot_series(axes[2][0], q_e_hex, om_hex, om_hex_err, RED)
axes[2][0].plot(q_e_line_cyc, om_e_line_cyc, color=BLUE, **dotted)
axes[2][0].plot(q_e_line_hex, om_e_line_hex, color=RED, **dotted)
# (f)
plot_series(axes[2][1], q_f_egd, om_egd, om_egd_err, GREEN)
plot_series(axes[2][1], q_f_dio, om_dio, om_dio_err, BLACK)
axes[2][1].plot(q_f_line_dio, om_f_line_dio, color=BLACK, **dotted)
axes[2][1].plot(q_f_line_egd, om_f_line_egd, color=GREEN, **dotted)
# (g)
plot_series(axes[3][0], q_g_cyc, w2_cyc, w2_cyc_err, BLUE)
plot_series(axes[3][0], q_g_hex, w2_hex, w2_hex_err, RED)
# (h)
plot_series(axes[3][1], q_h_egd, w2_egd, w2_egd_err, GREEN)
plot_series(axes[3][1], q_h_dio, w2_dio, w2_dio_err, BLACK)

# legends as coloured text
axes[0][0].text(0.272, 0.836, r'$n$-Hexane', color=RED, fontsize=FS,
                transform=axes[0][0].transAxes, ha='left', va='center')
axes[0][0].text(0.272, 0.752, 'Cyclohexane', color=BLUE, fontsize=FS,
                transform=axes[0][0].transAxes, ha='left', va='center')
axes[0][1].text(0.27, 0.836, 'EGDME', color=GREEN, fontsize=FS,
                transform=axes[0][1].transAxes, ha='left', va='center')
axes[0][1].text(0.27, 0.752, '1,4-Dioxane', color=BLACK, fontsize=FS,
                transform=axes[0][1].transAxes, ha='left', va='center')

fig.savefig('out.png', dpi=100)
